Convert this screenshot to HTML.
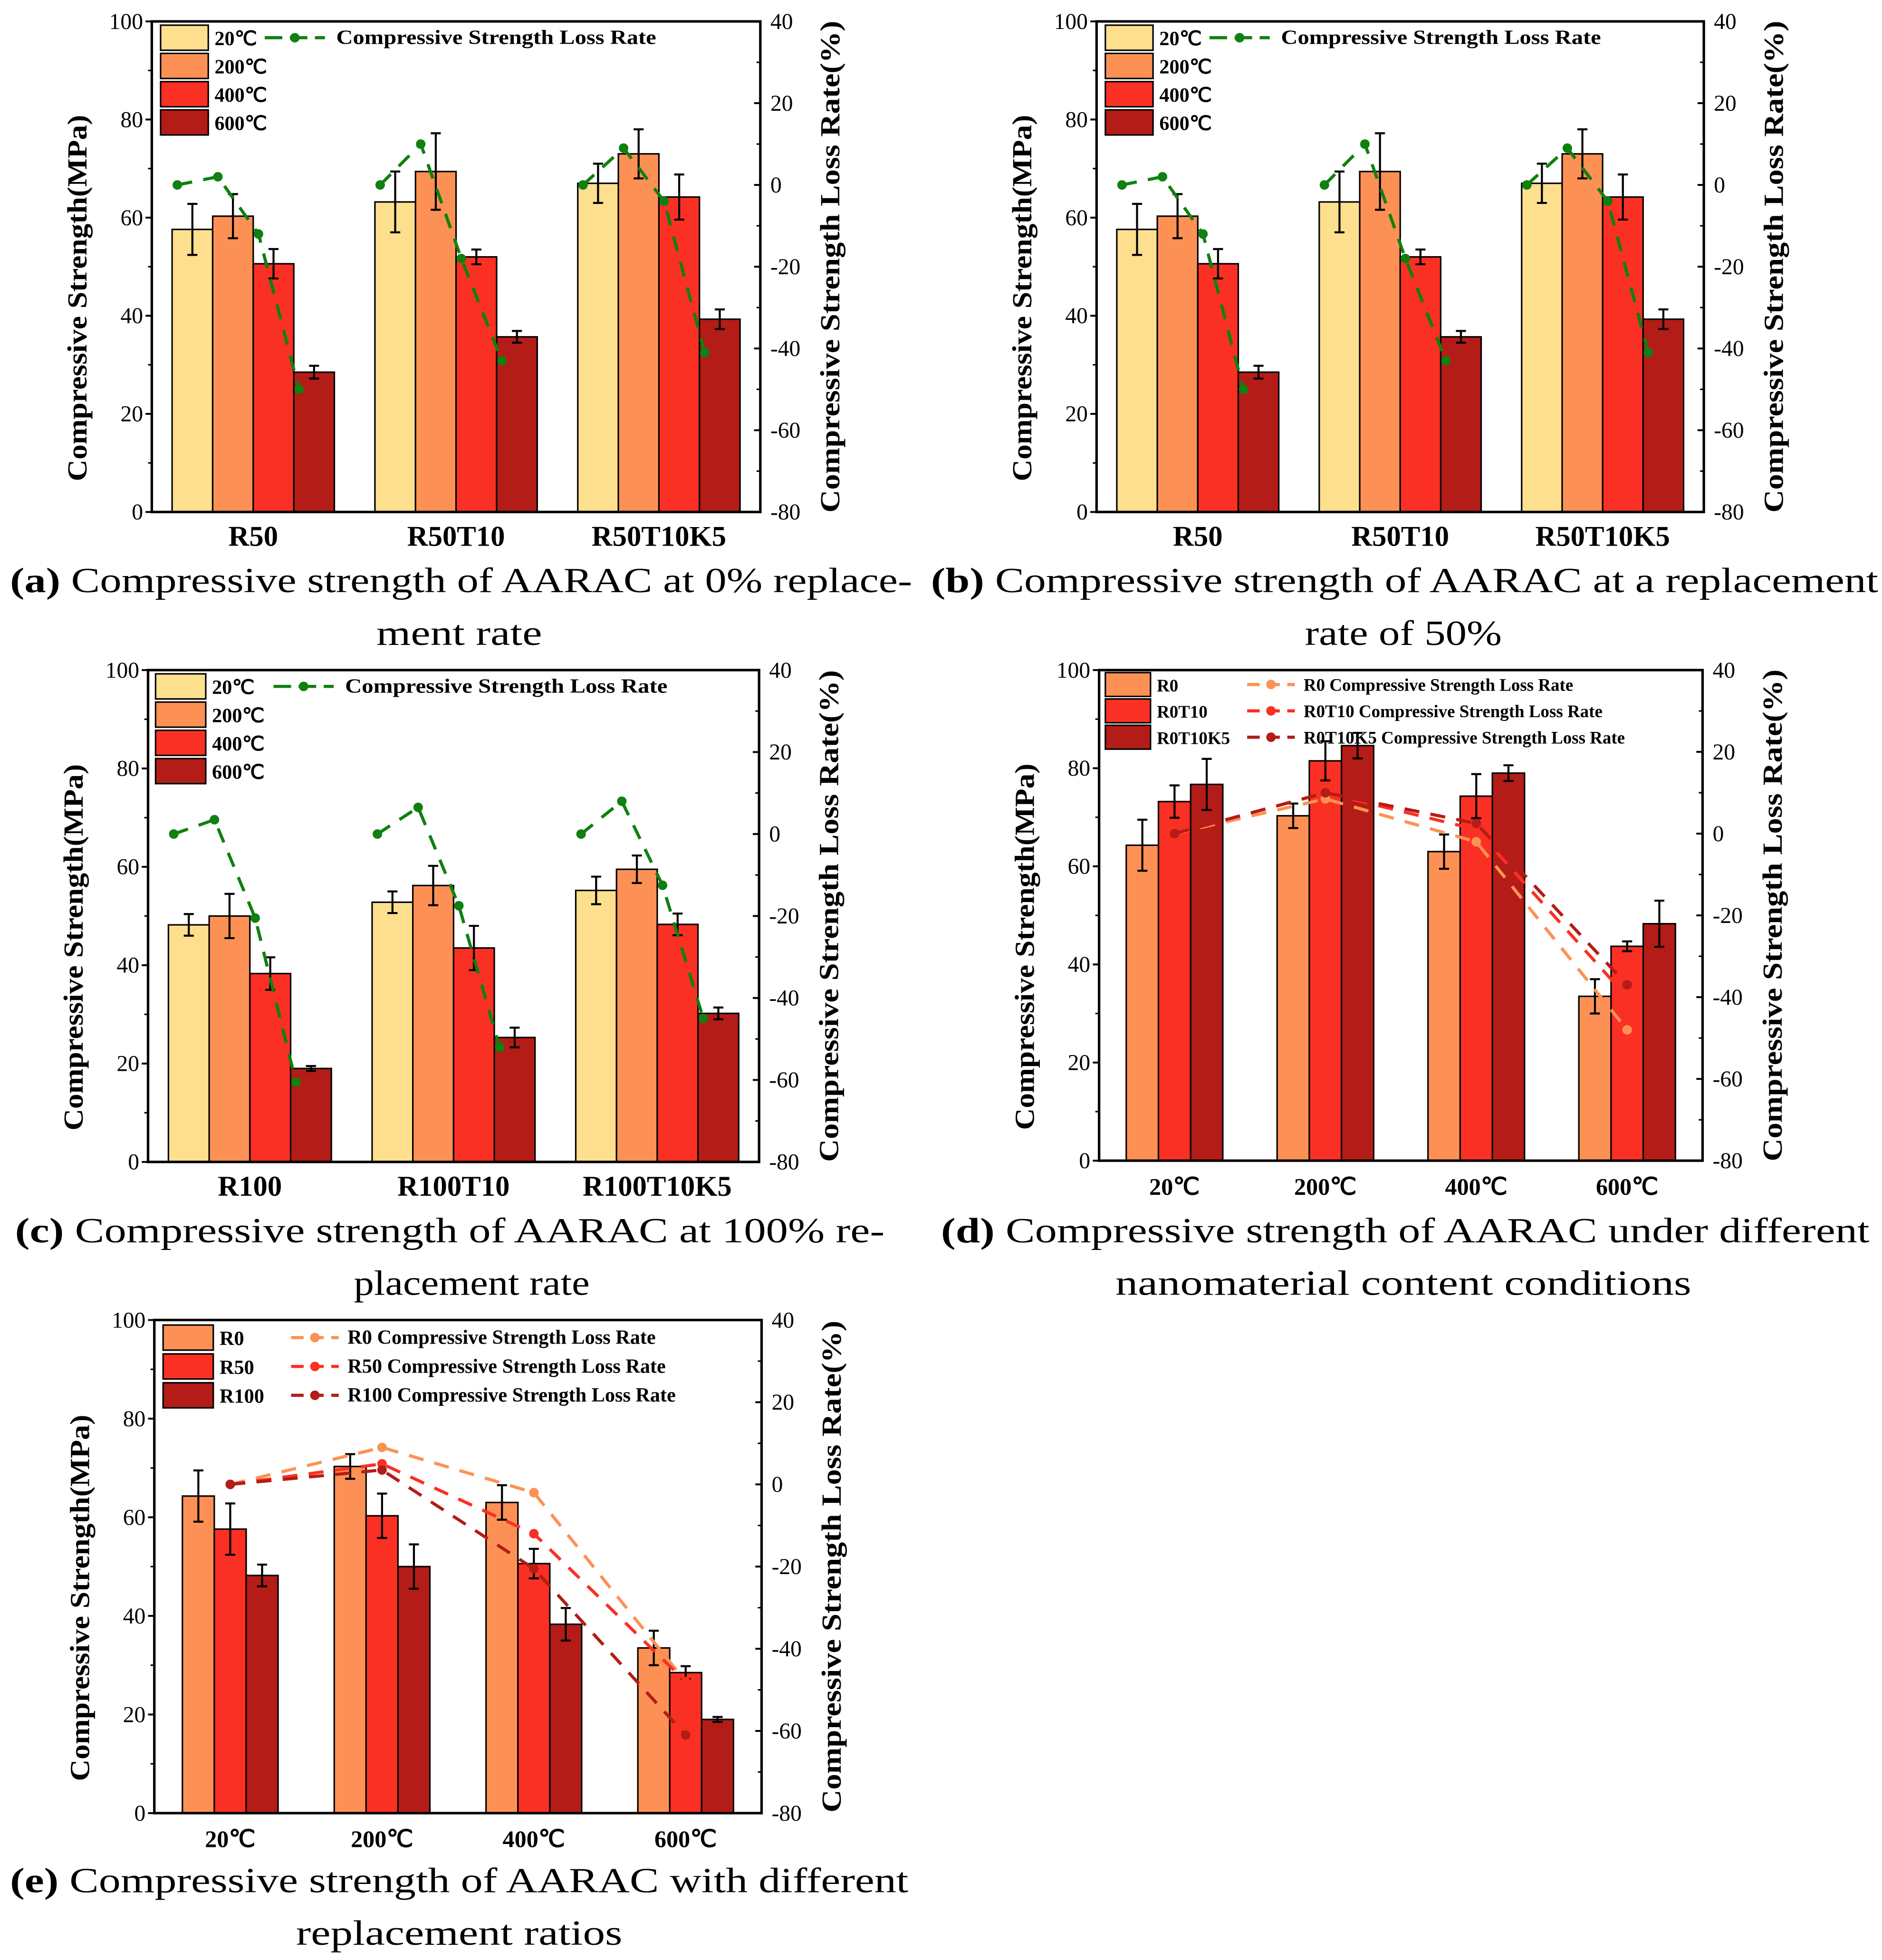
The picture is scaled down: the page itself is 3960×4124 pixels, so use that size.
<!DOCTYPE html>
<html><head><meta charset="utf-8"><style>
html,body{margin:0;padding:0;background:#fff}
svg{display:block}
text{font-family:"Liberation Serif",serif}
</style></head><body>
<svg id="fig" xmlns="http://www.w3.org/2000/svg" width="3960" height="4124" viewBox="0 0 1500 1562">
<rect width="1500" height="1562" fill="#fff"/>
<g id="captions" font-size="28" fill="#000" lengthAdjust="spacingAndGlyphs">
<text x="8" y="472" textLength="719" lengthAdjust="spacingAndGlyphs"><tspan font-weight="bold">(a)</tspan> Compressive strength of AARAC at 0% replace-</text>
<text x="300" y="514" textLength="132" lengthAdjust="spacingAndGlyphs">ment rate</text>
<text x="742" y="472" textLength="755" lengthAdjust="spacingAndGlyphs"><tspan font-weight="bold">(b)</tspan> Compressive strength of AARAC at a replacement</text>
<text x="1040" y="514" textLength="157" lengthAdjust="spacingAndGlyphs">rate of 50%</text>
<text x="12" y="990" textLength="693" lengthAdjust="spacingAndGlyphs"><tspan font-weight="bold">(c)</tspan> Compressive strength of AARAC at 100% re-</text>
<text x="282" y="1032" textLength="188" lengthAdjust="spacingAndGlyphs">placement rate</text>
<text x="750" y="990" textLength="740" lengthAdjust="spacingAndGlyphs"><tspan font-weight="bold">(d)</tspan> Compressive strength of AARAC under different</text>
<text x="889" y="1032" textLength="459" lengthAdjust="spacingAndGlyphs">nanomaterial content conditions</text>
<text x="8" y="1508" textLength="716" lengthAdjust="spacingAndGlyphs"><tspan font-weight="bold">(e)</tspan> Compressive strength of AARAC with different</text>
<text x="236" y="1550" textLength="260" lengthAdjust="spacingAndGlyphs">replacement ratios</text>
</g>
</svg>
<script>
// ---- data ----
const tempLabels = ["20℃","200℃","400℃","600℃"];
const aCats = ["R50","R50T10","R50T10K5"];
const aVals = [[57.6,60.3,50.6,28.5],[63.2,69.4,52.0,35.7],[67.0,73.0,64.2,39.3]];
const aErrs = [[5.2,4.5,3.0,1.3],[6.2,7.8,1.5,1.2],[4.0,5.0,4.6,2.0]];
const aLoss = [[0,2,-12,-50],[0,10,-18,-43],[0,9,-4,-41]];
const cCats = ["R100","R100T10","R100T10K5"];
const cVals = [[48.2,50.0,38.3,19.0],[52.8,56.2,43.5,25.3],[55.2,59.5,48.3,30.2]];
const cErrs = [[2.2,4.5,3.3,0.5],[2.2,4.0,4.5,2.0],[2.8,2.8,2.2,1.2]];
const cLoss = [[0,3.5,-20.5,-60.5],[0,6.5,-17.5,-52],[0,8,-12.5,-45]];
const dSeries = ["R0","R0T10","R0T10K5"];
const dVals = [[64.3,70.3,63.0,33.5],[73.2,81.5,74.3,43.7],[76.7,84.6,79.0,48.3]];
const dErrs = [[5.2,2.5,3.5,3.5],[3.3,4.0,4.5,1.0],[5.2,2.6,1.6,4.7]];
const dLoss = [[0,8.5,-2,-48],[0,10,1,-40],[0,10,2.5,-37]];
const eSeries = ["R0","R50","R100"];
const eVals = [[64.3,70.3,63.0,33.5],[57.6,60.3,50.6,28.5],[48.2,50.0,38.3,19.0]];
const eErrs = [[5.2,2.5,3.5,3.5],[5.2,4.5,3.0,1.3],[2.2,4.5,3.3,0.5]];
const eLoss = [[0,9,-2,-48],[0,5,-12,-48],[0,3.5,-20.5,-61]];
const leftTicks = [0,20,40,60,80,100];
const rightTicks = [-80,-60,-40,-20,0,20,40];

const NS="http://www.w3.org/2000/svg";
const fig=document.getElementById('fig');
const tempColors=["#FDDF8E","#FD9155","#FA3024","#B41C17"];
const sColors=["#FD9155","#FA3024","#B41C17"];
function mk(tag,attrs,parent,txt){const e=document.createElementNS(NS,tag);for(const k in attrs)e.setAttribute(k,attrs[k]);if(txt!==undefined)e.textContent=txt;parent.appendChild(e);return e;}

function panel(id,x0,y0,x1,y1,groups,nb,vals,errs,loss,mode,legendNames,barFrac,legendCfg){
  const g=mk('g',{},fig);
  
  
  const yL=v=>y1-(v/100)*(y1-y0);
  const yR=v=>y1-((v+80)/120)*(y1-y0);
  const ng=groups.length, gw=(x1-x0)/ng, bw=gw*barFrac/nb;
  const xb=(gi,bi)=>x0+gw*(gi+0.5)-gw*barFrac/2+bw*bi;
  for(let gi=0;gi<ng;gi++)for(let bi=0;bi<nb;bi++){
    const v=mode==='temp'?vals[gi][bi]:vals[bi][gi];
    const er=mode==='temp'?errs[gi][bi]:errs[bi][gi];
    const col=mode==='temp'?tempColors[bi]:sColors[bi];
    const r=mk('rect',{x:xb(gi,bi),y:yL(v),width:bw,height:y1-yL(v),fill:col,stroke:'#000','stroke-width':1.2},g);
    
    
    const cx=xb(gi,bi)+bw/2;
    const eb=mk('path',{d:`M${cx},${yL(v-er)}V${yL(v+er)}M${cx-4},${yL(v-er)}h8M${cx-4},${yL(v+er)}h8`,stroke:'#000','stroke-width':1.6,fill:'none'},g);
    
    
  }
  if(mode==='temp'){
    for(let gi=0;gi<ng;gi++){
      const pts=loss[gi].map((v,bi)=>[xb(gi,bi)+bw/2-12,yR(v)]);
      const l=mk('polyline',{points:pts.map(p=>p.join(',')).join(' '),fill:'none',stroke:'#108010','stroke-width':2.5,'stroke-dasharray':'12,9'},g);
      
      
      pts.forEach(p=>{const c=mk('circle',{cx:p[0],cy:p[1],r:3.8,fill:'#108010'},g);
        
        });
    }
  } else {
    for(let si=0;si<nb;si++){
      const pts=loss[si].map((v,gi)=>[x0+gw*(gi+0.5),yR(v)]);
      const l=mk('polyline',{points:pts.map(p=>p.join(',')).join(' '),fill:'none',stroke:sColors[si],'stroke-width':2.5,'stroke-dasharray':'12,9'},g);
      
      
      pts.forEach(p=>{const c=mk('circle',{cx:p[0],cy:p[1],r:3.8,fill:sColors[si]},g);
        
        });
    }
  }
  const fr=mk('rect',{x:x0,y:y0,width:x1-x0,height:y1-y0,fill:'none',stroke:'#000','stroke-width':2},g);
  
  
  leftTicks.forEach(t=>{mk('line',{x1:x0-5,x2:x0,y1:yL(t),y2:yL(t),stroke:'#000','stroke-width':1.5},g);
    const tl=mk('text',{x:x0-7,y:yL(t)+6,'font-size':18,'text-anchor':'end'},g,t);
    
    
    if(t<100)mk('line',{x1:x0-3,x2:x0,y1:yL(t+10),y2:yL(t+10),stroke:'#000','stroke-width':1.2},g);});
  rightTicks.forEach(t=>{mk('line',{x1:x1-5,x2:x1,y1:yR(t),y2:yR(t),stroke:'#000','stroke-width':1.5},g);
    const tl=mk('text',{x:x1+8,y:yR(t)+6,'font-size':18},g,t);
    
    
    if(t<40)mk('line',{x1:x1-3,x2:x1,y1:yR(t+10),y2:yR(t+10),stroke:'#000','stroke-width':1.2},g);});
  groups.forEach((c,gi)=>{const tl=mk('text',{x:x0+gw*(gi+0.5),y:y1+27,'font-size':mode==='temp'?23:19,'font-weight':'bold','text-anchor':'middle'},g,c);
    
    });
  const cy=(y0+y1)/2;
  const lt=mk('text',{x:0,y:0,'font-size':22,'font-weight':'bold','text-anchor':'middle',textLength:292,lengthAdjust:'spacingAndGlyphs',transform:`translate(${x0-52},${cy+25}) rotate(-90)`},g,'Compressive Strength(MPa)');
  
  
  const rt=mk('text',{x:0,y:0,'font-size':22,'font-weight':'bold','text-anchor':'middle',textLength:392,lengthAdjust:'spacingAndGlyphs',transform:`translate(${x1+63},${cy}) rotate(-90)`},g,'Compressive Strength Loss Rate(%)');
  
  
  const L=legendCfg;
  legendNames.forEach((n,i)=>{
    const col=mode==='temp'?tempColors[i]:sColors[i];
    const sw=mk('rect',{x:x0+L.sx,y:y0+L.sy+i*L.dy,width:L.sw,height:L.sh,fill:col,stroke:'#000','stroke-width':1.2},g);
    
    
    const tx=mk('text',{x:x0+L.sx+L.sw+5,y:y0+L.sy+i*L.dy+L.sh-4,'font-size':L.fs,'font-weight':'bold'},g,n);
    
    
  });
  if(mode==='temp'){
    const ly=y0+L.sy+L.sh/2;
    mk('line',{x1:x0+L.lx,x2:x0+L.lx+48,y1:ly,y2:ly,stroke:'#108010','stroke-width':2.5,'stroke-dasharray':'14,6'},g);
    mk('circle',{cx:x0+L.lx+24,cy:ly,r:3.8,fill:'#108010'},g);
    const tx=mk('text',{x:x0+L.lx+57,y:ly+5,'font-size':16,'font-weight':'bold',textLength:L.tl,lengthAdjust:'spacingAndGlyphs'},g,'Compressive Strength Loss Rate');
    
    
  } else {
    legendNames.forEach((n,i)=>{
      const ly=y0+L.sy+i*L.dy+L.sh/2;
      mk('line',{x1:x0+L.lx,x2:x0+L.lx+38,y1:ly,y2:ly,stroke:sColors[i],'stroke-width':2.5,'stroke-dasharray':'10,6'},g);
      mk('circle',{cx:x0+L.lx+19,cy:ly,r:3.8,fill:sColors[i]},g);
      const tx=mk('text',{x:x0+L.lx+45,y:ly+5,'font-size':L.lfs,'font-weight':'bold'},g,n+' Compressive Strength Loss Rate');
      
      
    });
  }
}
const tl4=["20℃","200℃","400℃","600℃"];
const legT={sx:7,sy:3,dy:22.5,sw:38,sh:20,fs:16,lx:90,tl:255};
panel('panel-a',121,17,606,408,aCats,4,aVals,aErrs,aLoss,'temp',tl4,0.8,legT);
panel('panel-b',874,17,1358,408,aCats,4,aVals,aErrs,aLoss,'temp',tl4,0.8,legT);
panel('panel-c',118,534,605,926,cCats,4,cVals,cErrs,cLoss,'temp',tl4,0.8,{sx:6,sy:3,dy:22.5,sw:40,sh:20,fs:16,lx:100,tl:257});
panel('panel-d',876,534,1357,925,tempLabels,3,dVals,dErrs,dLoss,'series',dSeries,0.64,{sx:5,sy:2,dy:21,sw:36,sh:19,fs:14,lx:118,lfs:14});
panel('panel-e',123,1052,607,1445,tempLabels,3,eVals,eErrs,eLoss,'series',eSeries,0.63,{sx:7,sy:4,dy:23,sw:40,sh:20,fs:16,lx:109,lfs:16});
</script>
</body></html>
